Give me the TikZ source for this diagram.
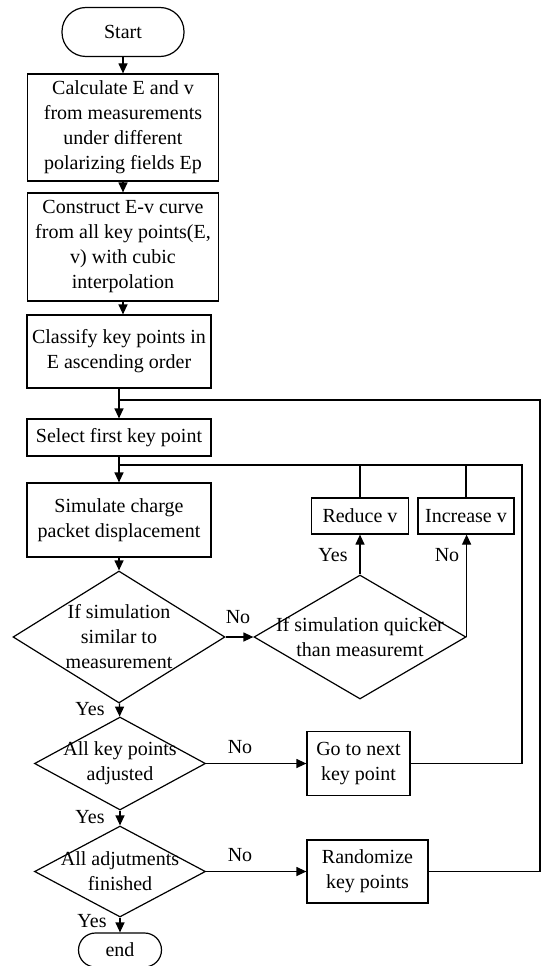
\documentclass[tikz,border=0pt]{standalone}
\usepackage{fontspec}
\setmainfont{Liberation Serif}
\usetikzlibrary{shapes.geometric,arrows.meta}

\begin{document}
\begin{tikzpicture}[x=1pt,y=-1pt,line width=1.2pt,
		>={Triangle[length=10pt,width=9pt]},
		every node/.style={font=\fontsize{20}{25}\selectfont},
		box/.style={draw, rectangle, align=center, inner sep=0pt},
		term/.style={draw, rectangle, inner sep=0pt},
		decision/.style={draw, diamond, inner sep=0pt},
		txt/.style={align=center, inner sep=0pt}]
		
		\useasboundingbox (0,0) rectangle (541,966);
		
		\node[term, rounded corners=24pt, minimum width=122pt, minimum height=49pt] (start) at (123,32) {Start};
		\node[box, minimum width=191pt, minimum height=107pt] (calc) at (123,127.5) {Calculate E and v\\from measurements\\under different\\polarizing fields Ep};
		\node[box, minimum width=191pt, minimum height=108pt] (curve) at (123,247) {Construct E-v curve\\from all key points(E,\\v) with cubic\\interpolation};
		\node[box, minimum width=184pt, minimum height=73pt] (sort) at (119,351.5) {Classify key points in\\E ascending order};
		\node[box, minimum width=184pt, minimum height=37pt] (first) at (119,437.5) {Select first key point};
		\node[box, minimum width=184pt, minimum height=74pt] (sim) at (119,520) {Simulate charge\\packet displacement};
		\node[decision, minimum width=212pt, minimum height=132pt, label={[txt]center:{If simulation\\similar to\\measurement}}] (similar) at (119,637) {};
		\node[decision, minimum width=212pt, minimum height=124pt, label={[txt]center:{If simulation quicker\\than measuremt}}] (quick) at (360,637) {};
		\node[box, minimum width=97pt, minimum height=36pt] (reduce) at (360,516) {Reduce v};
		\node[box, minimum width=96pt, minimum height=36pt] (increase) at (466,516) {Increase v};
		\node[decision, minimum width=171pt, minimum height=93pt, label={[txt]center:{All key points\\adjusted}}] (alladj) at (120,763.5) {};
		\node[box, minimum width=103pt, minimum height=64pt] (next) at (358.5,763.5) {Go to next\\key point};
		\node[decision, minimum width=171pt, minimum height=91pt, label={[txt]center:{All adjutments\\finished}}] (done) at (120,871.5) {};
		\node[box, minimum width=121pt, minimum height=63pt] (rand) at (367.5,871.5) {Randomize\\key points};
		\node[term, rounded corners=17pt, minimum width=83pt, minimum height=34pt] (end) at (120,950) {end};
		
		\coordinate (j1) at (119,400);
		\coordinate (j2) at (119,465);
		\coordinate (r1) at (540,400);
		\coordinate (r2) at (522,465);
		
		\node (no1) at (238,617) {No};
		\node (yes1) at (333,555) {Yes};
		\node (no2) at (447,555) {No};
		\node (yes2) at (90,709) {Yes};
		\node (no3) at (240,747) {No};
		\node (yes3) at (90,817) {Yes};
		\node (no4) at (240,855) {No};
		\node (yes4) at (92,921) {Yes};
		
		\draw[->] (start) -- (calc);
		\draw[->] (calc) -- (curve);
		\draw[->] (curve.south) -- (curve.south |- sort.north);
		\draw[->] (sort) -- (first);
		\draw[->] (first) -- (sim);
		\draw[->] (sim) -- (similar);
		\draw[->] (similar.east) -- (quick.west);
		\draw[->] (quick) -- (reduce);
		\draw[->] (quick.east) -- (quick.east |- increase.south);
		\draw (reduce.north) -- (reduce.north |- j2);
		\draw (increase.north) -- (increase.north |- j2);
		\draw[->] (similar) -- (alladj);
		\draw[->] (alladj) -- (next);
		\draw (next) -| (r2) -- (j2);
		\draw[->] (alladj) -- (done);
		\draw[->] (done) -- (rand);
		\draw (rand) -| (r1) -- (j1);
		\draw[->] (done) -- (end);
		
	\end{tikzpicture}
\end{document}
